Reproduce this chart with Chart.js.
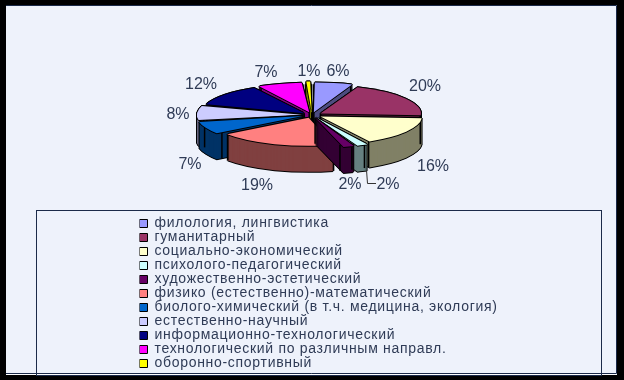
<!DOCTYPE html>
<html><head><meta charset="utf-8">
<style>html,body{margin:0;padding:0;background:#000}#w{width:624px;height:380px;position:relative}canvas{display:block}</style>
<script src="https://cdn.jsdelivr.net/npm/chart.js@4"></script></head>
<body><div id="w"><canvas id="c" width="624" height="380"></canvas></div>
<script>
const categories = ["филология, лингвистика","гуманитарный","социально-экономический","психолого-педагогический","художественно-эстетический","физико (естественно)-математический","биолого-химический (в т.ч. медицина, экология)","естественно-научный","информационно-технологический","технологический по различным направл.","оборонно-спортивный"];
const shares = [6,20,16,2,2,19,7,8,12,7,1];
const faceColors = ["#9999FF","#993366","#FFFFCC","#CCFFFF","#660066","#FF8080","#0066CC","#CCCCFF","#000080","#FF00FF","#FFFF00"];
const sideColors = ["#4D4D80","#4D1A33","#808066","#668080","#330033","#804040","#003366","#666680","#000040","#800080","#808000"];
const labelSpots = [[338,72],[425,87],[433,167],[388,185],[350,185],[257,186],[190,165],[178,115],[201,85],[266,73],[309,72]];

const SQUASH = 0.28, DEPTH = 26, TEXT = "#2f3b56";
function clone(el, color){
  const c = Object.create(el);
  c.options = Object.assign({}, el.options, {backgroundColor:color, borderWidth:0, borderColor:color});
  return c;
}
function squash(ctx, chart, dx, dy){
  const cy = (chart.chartArea.top + chart.chartArea.bottom)/2;
  ctx.translate(dx, dy + cy);
  ctx.scale(1, SQUASH);
  ctx.translate(0, -cy);
}
function paint(ctx, chart, el, dx, dy){
  ctx.save(); squash(ctx, chart, dx, dy); el.draw(ctx); ctx.restore();
}
const pie3d = {
  id:'pie3d',
  beforeDraw(chart){
    const ctx = chart.ctx;
    ctx.save();
    ctx.fillStyle="#000"; ctx.fillRect(0,0,624,380);
    ctx.fillStyle="#fff"; ctx.fillRect(6,5,611,370);
    ctx.fillStyle="#EEF2FB"; ctx.fillRect(6,5,611,368);
    ctx.strokeStyle="#1B2A49"; ctx.lineWidth=1;
    ctx.beginPath(); ctx.moveTo(6,5.5); ctx.lineTo(616.5,5.5); ctx.lineTo(616.5,373.5); ctx.lineTo(6,373.5); ctx.stroke();
    ctx.strokeRect(36.5,210.5,565,165);
    ctx.restore();
    ctx.letterSpacing = "0.7px";
  },
  afterLayout(chart){
    const l = chart.legend;
    l.left = 139.5; l.right = 600; l.top = 216.5; l.bottom = 374;
  },
  beforeDatasetDraw(chart){
    const ctx = chart.ctx, arcs = chart.getDatasetMeta(0).data;
    const cy = (chart.chartArea.top + chart.chartArea.bottom)/2;
    const order = arcs.map((a,i)=>i).sort((p,q)=>{
      const mid = a => (a.startAngle+a.endAngle)/2;
      return Math.sin(mid(arcs[p]))-Math.sin(mid(arcs[q]));
    });
    for(const i of order){
      const a = arcs[i], black = clone(a,"#000"), side = clone(a,sideColors[i]), face = clone(a,faceColors[i]);
      for(const [ox,oy] of [[-1,0],[1,0],[0,-1],[0,1]]){
        paint(ctx,chart,black,ox,oy);
        for(let d=1;d<=DEPTH;d+=1) paint(ctx,chart,black,ox,oy+d);
      }
      for(let d=DEPTH;d>=1;d--) paint(ctx,chart,side,0,d);
      const off=(a.options.offset||0)/4, m=(a.startAngle+a.endAngle)/2;
      const ox=a.x+Math.cos(m)*off, oy=a.y+Math.sin(m)*off;
      ctx.save(); ctx.strokeStyle="#000"; ctx.lineWidth=1.5;
      for(const t of [a.startAngle,a.endAngle]){
        const px=ox+Math.cos(t)*a.outerRadius, py=cy+(oy+Math.sin(t)*a.outerRadius-cy)*SQUASH;
        ctx.beginPath(); ctx.moveTo(px,py); ctx.lineTo(px,py+DEPTH); ctx.stroke();
      }
      ctx.beginPath(); ctx.moveTo(ox,cy+(oy-cy)*SQUASH); ctx.lineTo(ox,cy+(oy-cy)*SQUASH+DEPTH); ctx.stroke();
      ctx.restore();
      for(const [qx,qy] of [[-1,0],[1,0],[0,-1],[0,1]]) paint(ctx,chart,black,qx,qy);
      paint(ctx,chart,face,0,0);
    }
    return false;
  },
  afterDatasetsDraw(chart){
    const ctx = chart.ctx;
    ctx.save();
    ctx.font = "16px 'Liberation Sans'"; ctx.fillStyle = TEXT; ctx.letterSpacing="0px";
    ctx.textAlign="center"; ctx.textBaseline="middle";
    shares.forEach((v,i)=>ctx.fillText(v+"%",labelSpots[i][0],labelSpots[i][1]));
    ctx.strokeStyle="#333"; ctx.lineWidth=1;
    ctx.beginPath(); ctx.moveTo(366.5,170); ctx.lineTo(367.5,183.5); ctx.lineTo(376,183.5); ctx.stroke();
    ctx.restore();
  }
};
new Chart(document.getElementById('c'),{
  type:'pie',
  data:{labels:categories,datasets:[{data:shares,backgroundColor:faceColors,borderColor:"#000",borderWidth:1,offset:40,radius:100}]},
  options:{
    responsive:false,animation:false,
    layout:{padding:{left:112,right:112,top:15,bottom:165}},
    plugins:{
      tooltip:{enabled:false},
      legend:{position:'chartArea',align:'start',
        labels:{boxWidth:8,boxHeight:8,padding:0,color:TEXT,font:{family:"'Liberation Sans'",size:14,lineHeight:1}}}
    }
  },
  plugins:[pie3d]
});
</script></body></html>
